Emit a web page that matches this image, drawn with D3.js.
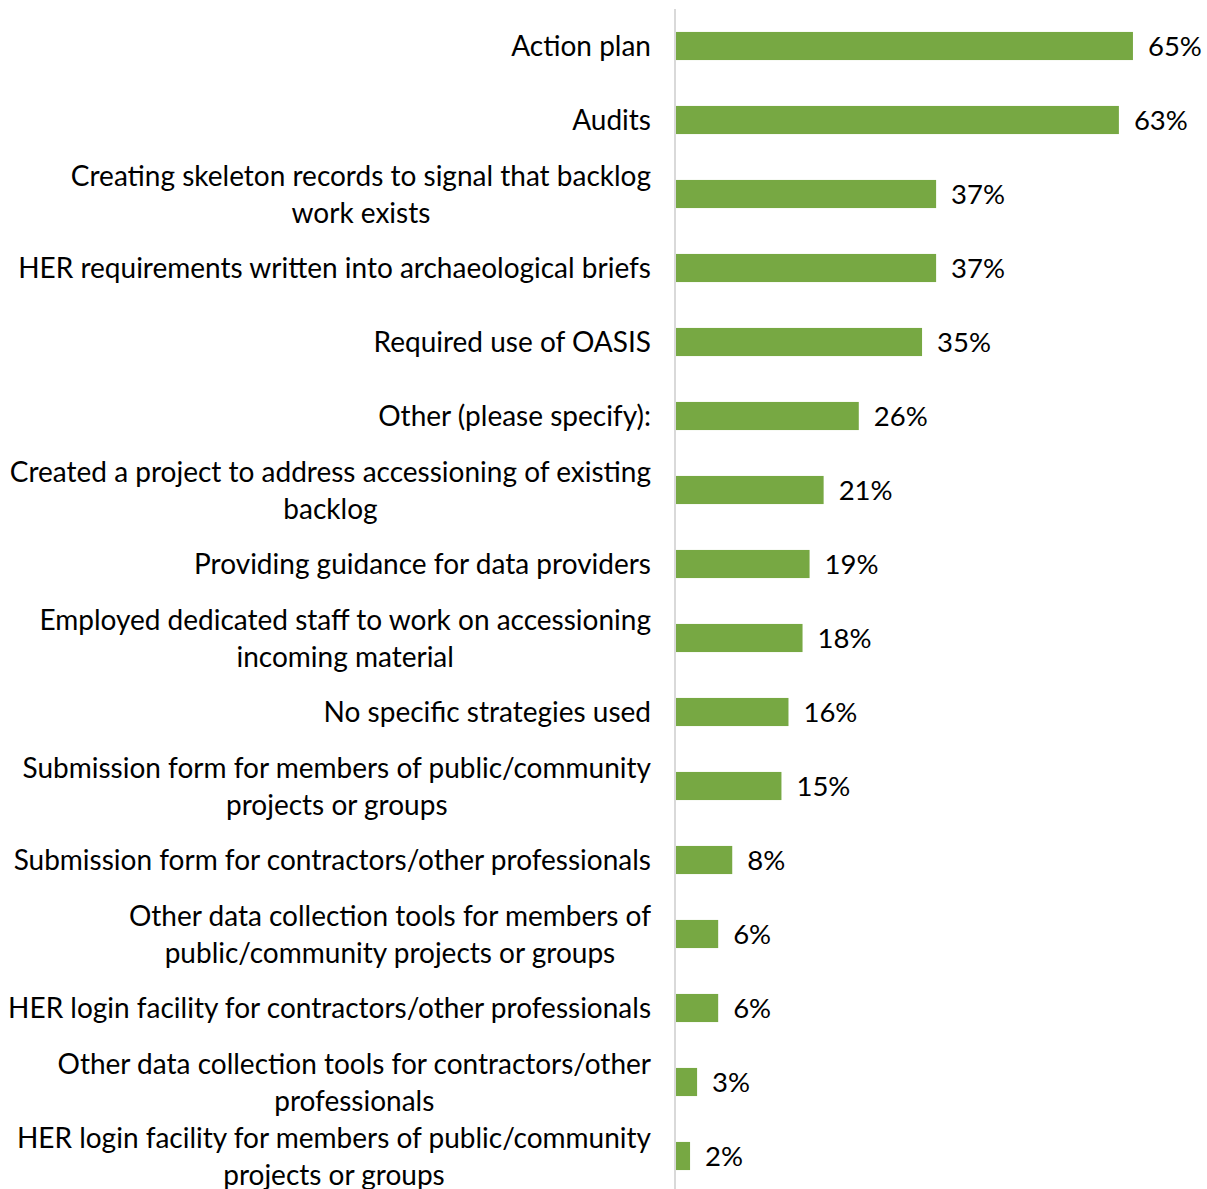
<!DOCTYPE html>
<html>
<head>
<meta charset="utf-8">
<script src="https://cdn.jsdelivr.net/npm/d3@7"></script>
<style>
  html, body { margin: 0; padding: 0; background: #fff; }
  svg { display: block; font-family: "Source Sans Pro", Lato, "Noto Sans", sans-serif; }
</style>
</head>
<body>
<svg id="chart" width="1207" height="1189"></svg>
<script>
// Strategies used, share of respondents (%)
const categories = [
  "Action plan",
  "Audits",
  "Creating skeleton records to signal that backlog\nwork exists",
  "HER requirements written into archaeological briefs",
  "Required use of OASIS",
  "Other (please specify):",
  "Created a project to address accessioning of existing\nbacklog",
  "Providing guidance for data providers",
  "Employed dedicated staff to work on accessioning\nincoming material",
  "No specific strategies used",
  "Submission form for members of public/community\nprojects or groups",
  "Submission form for contractors/other professionals",
  "Other data collection tools for members of\npublic/community projects or groups",
  "HER login facility for contractors/other professionals",
  "Other data collection tools for contractors/other\nprofessionals",
  "HER login facility for members of public/community\nprojects or groups"
];
const values = [65, 63, 37, 37, 35, 26, 21, 19, 18, 16, 15, 8, 6, 6, 3, 2];

const svg = d3.select("#chart");
const width = 1207, height = 1189;
const margin = { top: 9, right: 0, bottom: 0, left: 676 };

const x = d3.scaleLinear().domain([0, 100]).range([margin.left, margin.left + 703]);
const y = d3.scaleBand().domain(categories).range([margin.top, margin.top + 74 * categories.length]).paddingInner(0.62).paddingOuter(0.31);

const green = "#77a843";
const catSize = 28;
const valSize = 27.5;
const lineGap = 37;
const labelRight = 651;

// vertical axis line
svg.append("line")
  .attr("x1", margin.left - 1).attr("x2", margin.left - 1)
  .attr("y1", 9).attr("y2", height)
  .attr("stroke", "#d9d9d9").attr("stroke-width", 2);

// bars
svg.append("g").selectAll("rect")
  .data(categories)
  .join("rect")
  .attr("x", x(0))
  .attr("y", d => y(d))
  .attr("width", (d, i) => x(values[i]) - x(0))
  .attr("height", y.bandwidth())
  .attr("fill", green);

// value labels
svg.append("g").selectAll("text")
  .data(categories)
  .join("text")
  .attr("x", (d, i) => x(values[i]) + 15)
  .attr("y", d => y(d) + y.bandwidth() / 2)
  .attr("dy", "0.36em")
  .attr("font-size", valSize)
  .attr("fill", "#000")
  .text((d, i) => values[i] + "%");

// category labels, right aligned; wrapped lines centred under the longest line
const cat = svg.append("g").selectAll("text")
  .data(categories)
  .join("text")
  .attr("text-anchor", "end")
  .attr("font-size", catSize)
  .attr("fill", "#000");

cat.each(function(d) {
  const lines = d.split("\n");
  const cy = y(d) + y.bandwidth() / 2;
  const t = d3.select(this);
  lines.forEach((ln, j) => {
    t.append("tspan")
      .attr("x", labelRight)
      .attr("y", cy + (j - (lines.length - 1) / 2) * lineGap)
      .attr("dy", "0.36em")
      .text(ln);
  });
});

cat.each(function(d) {
  const lines = d.split("\n");
  if (lines.length < 2) return;
  const spans = d3.select(this).selectAll("tspan").nodes();
  const maxW = Math.max(...spans.map(s => s.getComputedTextLength()));
  const centre = labelRight - maxW / 2;
  d3.select(this).attr("text-anchor", "middle");
  spans.forEach(s => d3.select(s).attr("x", centre));
});
</script>
</body>
</html>
